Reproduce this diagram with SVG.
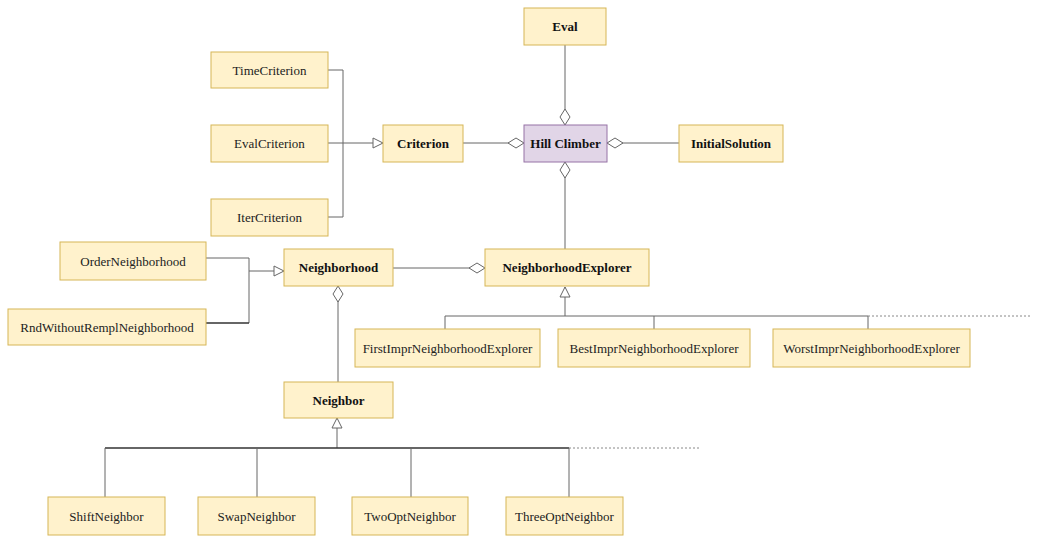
<svg xmlns="http://www.w3.org/2000/svg" width="1059" height="536" viewBox="0 0 1059 536">
<style>
.n{fill:#fff2cc;stroke:#d6b656;stroke-width:1}
.p{fill:#e1d5e7;stroke:#9673a6;stroke-width:1}
text{font-family:"Liberation Serif","Times New Roman",serif;font-size:13px;fill:#222;text-anchor:middle}
.b{font-weight:bold;fill:#111}
.c{fill:none;stroke:#666;stroke-width:1}
.d{fill:none;stroke:#333;stroke-width:1.6}
.dot{fill:none;stroke:#888;stroke-width:1;stroke-dasharray:2 2}
</style>
<defs>
<marker id="dia" markerUnits="userSpaceOnUse" markerWidth="18" markerHeight="12" refX="17" refY="6" orient="auto">
<path d="M1,6 L9,1 L17,6 L9,11 z" fill="#fff" stroke="#666" stroke-width="1"/>
</marker>
<marker id="tri" markerUnits="userSpaceOnUse" markerWidth="12" markerHeight="12" refX="11" refY="6" orient="auto">
<path d="M1,1 L11,6 L1,11 z" fill="#fff" stroke="#666" stroke-width="1"/>
</marker>
</defs>
<g id="connectors">
<line class="c" x1="565" y1="45" x2="565" y2="125" marker-end="url(#dia)"/>
<line class="c" x1="463" y1="143" x2="524" y2="143" marker-end="url(#dia)"/>
<line class="c" x1="679" y1="143" x2="607" y2="143" marker-end="url(#dia)"/>
<line class="c" x1="565" y1="249" x2="565" y2="162" marker-end="url(#dia)"/>
<line class="c" x1="393" y1="268" x2="485" y2="268" marker-end="url(#dia)"/>
<line class="c" x1="338" y1="382" x2="338" y2="286" marker-end="url(#dia)"/>
<path class="c" d="M328,70 H343 V217 H328"/>
<line class="c" x1="328" y1="143" x2="383" y2="143" marker-end="url(#tri)"/>
<path class="c" d="M206,258 H249 V323"/>
<path class="d" d="M249,323 H206"/>
<line class="c" x1="249" y1="271" x2="284" y2="271" marker-end="url(#tri)"/>
<line class="c" x1="565" y1="316" x2="565" y2="287" marker-end="url(#tri)"/>
<path class="c" d="M445,329 V316 H868 V329"/>
<line class="c" x1="654" y1="316" x2="654" y2="329"/>
<line class="dot" x1="868" y1="316" x2="1030" y2="316"/>
<line class="c" x1="337" y1="448" x2="337" y2="418" marker-end="url(#tri)"/>
<path class="d" d="M105,448 H569"/>
<path class="c" d="M105,497 V448 M569,448 V497 M257,448 V497 M411,448 V497"/>
<line class="dot" x1="569" y1="448" x2="700" y2="448"/>
</g>
<g id="eval"><rect class="n" x="524" y="8" width="82" height="37"/><text class="b" x="565" y="31">Eval</text></g>
<g id="timecriterion"><rect class="n" x="211" y="52" width="117" height="36"/><text x="269.5" y="74.5">TimeCriterion</text></g>
<g id="evalcriterion"><rect class="n" x="211" y="125" width="117" height="37"/><text x="269.5" y="148">EvalCriterion</text></g>
<g id="itercriterion"><rect class="n" x="211" y="199" width="117" height="37"/><text x="269.5" y="222">IterCriterion</text></g>
<g id="criterion"><rect class="n" x="383" y="125" width="80" height="37"/><text class="b" x="423" y="148">Criterion</text></g>
<g id="hillclimber"><rect class="p" x="524" y="125" width="83" height="37"/><text class="b" x="565.5" y="148">Hill Climber</text></g>
<g id="initialsolution"><rect class="n" x="679" y="125" width="104" height="37"/><text class="b" x="731" y="148">InitialSolution</text></g>
<g id="orderneighborhood"><rect class="n" x="60" y="242" width="146" height="38"/><text x="133" y="265.5">OrderNeighborhood</text></g>
<g id="rndwithoutremplneighborhood"><rect class="n" x="8" y="309" width="198" height="36"/><text x="107" y="331.5">RndWithoutRemplNeighborhood</text></g>
<g id="neighborhood"><rect class="n" x="284" y="249" width="109" height="37"/><text class="b" x="338.5" y="272">Neighborhood</text></g>
<g id="neighborhoodexplorer"><rect class="n" x="485" y="249" width="164" height="37"/><text class="b" x="567" y="272">NeighborhoodExplorer</text></g>
<g id="firstimpr"><rect class="n" x="355" y="329" width="185" height="38"/><text x="447.5" y="352.5">FirstImprNeighborhoodExplorer</text></g>
<g id="bestimpr"><rect class="n" x="558" y="329" width="192" height="38"/><text x="654" y="352.5">BestImprNeighborhoodExplorer</text></g>
<g id="worstimpr"><rect class="n" x="773" y="329" width="197" height="38"/><text x="871.5" y="352.5">WorstImprNeighborhoodExplorer</text></g>
<g id="neighbor"><rect class="n" x="284" y="382" width="109" height="36"/><text class="b" x="338.5" y="404.5">Neighbor</text></g>
<g id="shiftneighbor"><rect class="n" x="48" y="497" width="117" height="38"/><text x="106.5" y="520.5">ShiftNeighbor</text></g>
<g id="swapneighbor"><rect class="n" x="198" y="497" width="117" height="38"/><text x="256.5" y="520.5">SwapNeighbor</text></g>
<g id="twooptneighbor"><rect class="n" x="352" y="497" width="116" height="38"/><text x="410" y="520.5">TwoOptNeighbor</text></g>
<g id="threeoptneighbor"><rect class="n" x="506" y="497" width="117" height="38"/><text x="564.5" y="520.5">ThreeOptNeighbor</text></g>
</svg>
